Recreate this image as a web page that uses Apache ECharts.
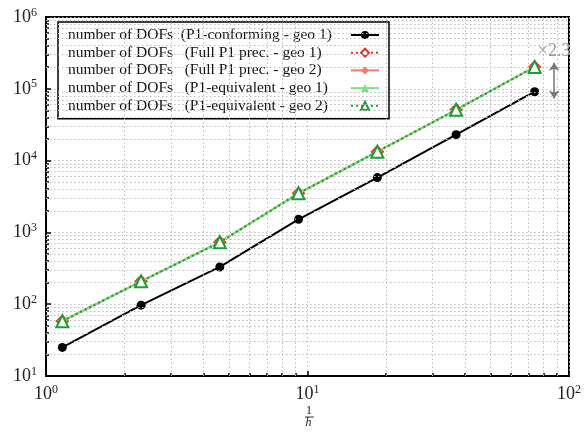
<!DOCTYPE html>
<html><head><meta charset="utf-8">
<script src="https://cdn.jsdelivr.net/npm/echarts@6/dist/echarts.min.js"></script>
<style>html,body{margin:0;padding:0;background:#fff}#c{width:584px;height:432px}</style>
</head><body><div id="c"></div>
<script>
const invH = [1.155, 2.31, 4.62, 9.24, 18.5, 37.0, 73.9];
const dofConforming = [25, 97, 330, 1520, 5800, 23000, 91000];
const dofFullGeo1 = [58, 208, 730, 3500, 13300, 51000, 202000];
const dofFullGeo2 = [58, 208, 730, 3500, 13300, 51000, 202000];
const dofEquivGeo1 = [58, 208, 730, 3500, 13300, 51000, 202000];
const dofEquivGeo2 = [58, 208, 730, 3500, 13300, 51000, 202000];
const names = [
  'number of DOFs  (P1-conforming - geo 1)',
  'number of DOFs   (Full P1 prec. - geo 1)',
  'number of DOFs   (Full P1 prec. - geo 2)',
  'number of DOFs   (P1-equivalent - geo 1)',
  'number of DOFs   (P1-equivalent - geo 2)'
];
const xMinorTicks = [2, 3, 4, 5, 6, 7, 8, 9, 20, 30, 40, 50, 60, 70, 80, 90];
const yMinorTicks = [20, 30, 40, 50, 60, 70, 80, 90, 200, 300, 400, 500, 600, 700, 800, 900,
  2000, 3000, 4000, 5000, 6000, 7000, 8000, 9000, 20000, 30000, 40000, 50000, 60000, 70000, 80000, 90000,
  200000, 300000, 400000, 500000, 600000, 700000, 800000, 900000];
const ratioLabel = '×2.3';
const ratioX = 87.7, ratioTop = 230000, ratioBottom = 73000;

const pair = a => invH.map((x, i) => [x, a[i]]);
const serif = 'Liberation Serif';
const fmt = v => '{b|10}{s|' + Math.round(Math.log10(v)) + '}';
const rich = {
  b: {fontFamily: serif, fontSize: 18, color: '#222'},
  s: {fontFamily: serif, fontSize: 12, color: '#222', verticalAlign: 'bottom', padding: [0, 0, 9, 0]}
};
const grid = {show: true, left: 46, right: 12, top: 17, bottom: 56, borderColor: '#000', borderWidth: 2};
const gridLineStyle = {color: '#bbb', type: [1.5, 2.5], width: 1};
const majorTick = {inside: true, length: 5, lineStyle: {color: '#000', width: 1.5}};
const hidden = {axisLine: {show: false}, axisLabel: {show: false}, splitLine: {show: false}};

const chart = echarts.init(document.getElementById('c'));
chart.setOption({
  animation: false,
  grid,
  xAxis: [
    {type: 'log', logBase: 10, min: 1, max: 100,
     axisLine: {show: true, lineStyle: {color: '#000', width: 2}},
     axisTick: majorTick,
     splitLine: {show: true, lineStyle: gridLineStyle},
     axisLabel: {formatter: fmt, rich, margin: 8}},
    Object.assign({type: 'log', logBase: 10, min: 1, max: 100, position: 'bottom',
     axisTick: {inside: true, length: 3, customValues: xMinorTicks, lineStyle: {color: '#000', width: 1.5}}}, hidden)
  ],
  yAxis: [
    {type: 'log', logBase: 10, min: 10, max: 1e6,
     axisLine: {show: true, lineStyle: {color: '#000', width: 2}},
     axisTick: majorTick,
     splitLine: {show: true, lineStyle: gridLineStyle},
     axisLabel: {formatter: fmt, rich, margin: 9}},
    Object.assign({type: 'log', logBase: 10, min: 10, max: 1e6, position: 'left',
     axisTick: {inside: true, length: 3, customValues: yMinorTicks, lineStyle: {color: '#000', width: 1.5}}}, hidden)
  ],
  legend: {
    orient: 'vertical', left: 58, top: 22, align: 'right',
    padding: [5, 9, 5, 10], itemGap: 1.7, itemWidth: 28, itemHeight: 10,
    borderColor: '#000', borderWidth: 1.5, backgroundColor: '#fff',
    data: names,
    formatter: n => '{t|' + n + '}',
    textStyle: {fontFamily: serif, fontSize: 15.5, color: '#111',
      rich: {t: {fontFamily: serif, fontSize: 15.5, lineHeight: 15, color: '#111', width: 278, align: 'left'}}}
  },
  series: [
    {name: 'minor grid', type: 'line', data: [], z: 1, silent: true,
     markLine: {silent: true, symbol: ['none', 'none'], label: {show: false}, lineStyle: gridLineStyle,
       data: xMinorTicks.map(v => ({xAxis: v})).concat(yMinorTicks.map(v => ({yAxis: v})))}},
    {name: names[0], type: 'line', data: pair(dofConforming), symbol: 'circle', symbolSize: 9,
     itemStyle: {color: '#000'}, lineStyle: {color: '#000', width: 2}, z: 3,
     markLine: {silent: true, symbol: ['arrow', 'arrow'], symbolSize: 8,
       lineStyle: {color: '#777', width: 1.5, type: 'solid'},
       label: {show: true, position: 'start', formatter: ratioLabel, fontFamily: serif, fontSize: 18, color: '#999', distance: 3},
       data: [[{coord: [ratioX, ratioTop]}, {coord: [ratioX, ratioBottom]}]]}},
    {name: names[1], type: 'line', data: pair(dofFullGeo1), symbol: 'emptyDiamond', symbolSize: 11,
     itemStyle: {color: '#e8321f', borderWidth: 2}, lineStyle: {color: '#e8321f', width: 2, type: [2, 3]}, z: 4},
    {name: names[2], type: 'line', data: pair(dofFullGeo2), symbol: 'diamond', symbolSize: 10,
     itemStyle: {color: '#f57a6c'}, lineStyle: {color: '#f57a6c', width: 2}, z: 5},
    {name: names[3], type: 'line', data: pair(dofEquivGeo1), symbol: 'triangle', symbolSize: 10,
     itemStyle: {color: '#7be07f'}, lineStyle: {color: '#7be07f', width: 2}, z: 6},
    {name: names[4], type: 'line', data: pair(dofEquivGeo2), symbol: 'emptyTriangle', symbolSize: 12,
     itemStyle: {color: '#1c9e36', borderWidth: 2}, lineStyle: {color: '#1c9e36', width: 2, type: [2, 3]}, z: 7}
  ],
  graphic: [
    {type: 'text', left: 306, top: 405, style: {text: '1', font: '12px ' + serif, fill: '#222'}},
    {type: 'line', shape: {x1: 305, y1: 417, x2: 314, y2: 417}, style: {stroke: '#222', lineWidth: 0.9}},
    {type: 'text', left: 305.5, top: 416.5, style: {text: 'h', font: 'italic 12px ' + serif, fill: '#222'}}
  ]
});
</script></body></html>
